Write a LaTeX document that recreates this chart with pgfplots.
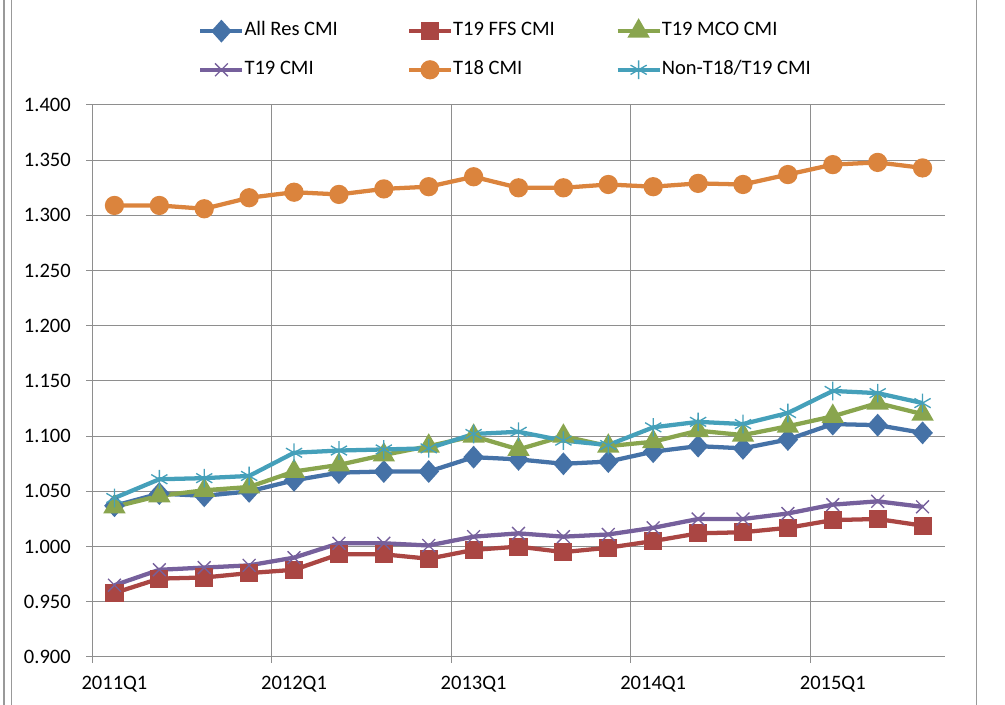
\documentclass[border=0pt]{standalone}
\usepackage{fontspec}
\setmainfont{Carlito}
\usepackage{pgfplots}
\usepackage{pgfplotstable}
\pgfplotsset{compat=1.18}
\definecolor{cBlue}{HTML}{4572A7}
\definecolor{cRed}{HTML}{AA4643}
\definecolor{cGreen}{HTML}{89A54E}
\definecolor{cPurple}{HTML}{76609C}
\definecolor{cOrange}{HTML}{DB843D}
\definecolor{cTeal}{HTML}{45A0BA}
\definecolor{cGrid}{HTML}{8E8E8E}
\pgfplotstableread{
x allres ffs mco t19 t18 non
0 1.037 0.958 1.036 0.965 1.309 1.044
1 1.048 0.971 1.046 0.979 1.309 1.061
2 1.046 0.972 1.051 0.981 1.306 1.062
3 1.050 0.976 1.054 0.983 1.316 1.064
4 1.060 0.979 1.068 0.990 1.321 1.085
5 1.067 0.993 1.074 1.003 1.319 1.087
6 1.068 0.993 1.083 1.003 1.324 1.088
7 1.068 0.989 1.091 1.001 1.326 1.089
8 1.081 0.997 1.100 1.009 1.335 1.102
9 1.079 1.000 1.088 1.012 1.325 1.104
10 1.075 0.995 1.100 1.009 1.325 1.096
11 1.077 0.999 1.091 1.011 1.328 1.092
12 1.086 1.005 1.095 1.017 1.326 1.108
13 1.091 1.012 1.105 1.025 1.329 1.113
14 1.089 1.013 1.101 1.025 1.328 1.111
15 1.097 1.017 1.109 1.030 1.337 1.121
16 1.111 1.024 1.118 1.038 1.346 1.141
17 1.110 1.025 1.130 1.041 1.348 1.139
18 1.103 1.019 1.120 1.036 1.343 1.130
}\datatable
\begin{document}
\fontsize{15.4pt}{18pt}\selectfont
\begin{tikzpicture}
\useasboundingbox (0,0) rectangle (753.75pt,528.75pt);
\draw[cGrid!90, line width=1.5pt] (2.8pt,0) -- (2.8pt,528.75pt);
\draw[cGrid!90, line width=1.1pt] (8.75pt,0) -- (8.75pt,528.75pt);
\draw[cGrid!90, line width=0.75pt] (732.5pt,0) -- (732.5pt,528.75pt);
\begin{axis}[
  at={(69pt,36pt)}, anchor=south west,
  scale only axis, width=639.75pt, height=414pt,
  xmin=-0.5, xmax=18.5, ymin=0.9, ymax=1.4,
  axis lines*=left,
  axis line style={cGrid, line width=0.75pt},
  clip=false,
  xtick={0,4,8,12,16},
  xticklabels={2011Q1,2012Q1,2013Q1,2014Q1,2015Q1},
  minor xtick={-0.5,3.5,7.5,11.5,15.5},
  xminorgrids=true, xmajorgrids=false,
  ymajorgrids=true,
  ytick={0.9,0.95,...,1.41},
  tick align=outside,
  major tick length=4.5pt, minor tick length=4.5pt,
  major x tick style={draw=none},
  tick style={cGrid, line width=0.75pt},
  grid style={cGrid, line width=0.75pt},
  minor grid style={cGrid, line width=0.75pt},
  /pgf/number format/assume math mode=true,
  yticklabel style={/pgf/number format/fixed, /pgf/number format/fixed zerofill, /pgf/number format/precision=3},
  yticklabel style={inner sep=0pt, xshift=-11.25pt},
  xticklabel style={inner sep=0pt, yshift=-10pt},
  every axis plot/.append style={line width=3.2pt},
  legend columns=3,
  legend style={draw=none, fill=none, at={(0.1243,1.150)}, anchor=north west,
    inner sep=0pt, row sep=15.5pt,
    nodes={inner sep=0pt, text height=10pt, text depth=3pt},
    /tikz/every even column/.append style={column sep=3.75pt}},
  legend image code/.code={\draw[mark repeat=2,mark phase=2] plot coordinates {(0pt,0pt) (15.75pt,0pt) (31.5pt,0pt)};},
]
\addplot[cBlue, mark=diamond*, mark size=6.2pt, mark options={solid, xscale=1.2}] table[x=x,y=allres]{\datatable};
\addlegendentry{\makebox[118pt][l]{All Res CMI}}
\addplot[cRed, mark=square*, mark size=5.2pt, mark options={solid}] table[x=x,y=ffs]{\datatable};
\addlegendentry{\makebox[118pt][l]{T19 FFS CMI}}
\addplot[cGreen, mark=triangle*, mark size=6.5pt, mark options={solid}] table[x=x,y=mco]{\datatable};
\addlegendentry{\makebox[118pt][l]{T19 MCO CMI}}
\addplot[cPurple, mark=x, mark size=6.8pt, mark options={solid, line width=1pt}] table[x=x,y=t19]{\datatable};
\addlegendentry{\makebox[118pt][l]{T19 CMI}}
\addplot[cOrange, mark=*, mark size=5.6pt, mark options={solid}] table[x=x,y=t18]{\datatable};
\addlegendentry{\makebox[118pt][l]{T18 CMI}}
\addplot[cTeal, mark=asterisk, mark size=7pt, mark options={solid, line width=1pt}] table[x=x,y=non]{\datatable};
\addlegendentry{\makebox[118pt][l]{Non-T18/T19 CMI}}
\end{axis}
\end{tikzpicture}
\end{document}
